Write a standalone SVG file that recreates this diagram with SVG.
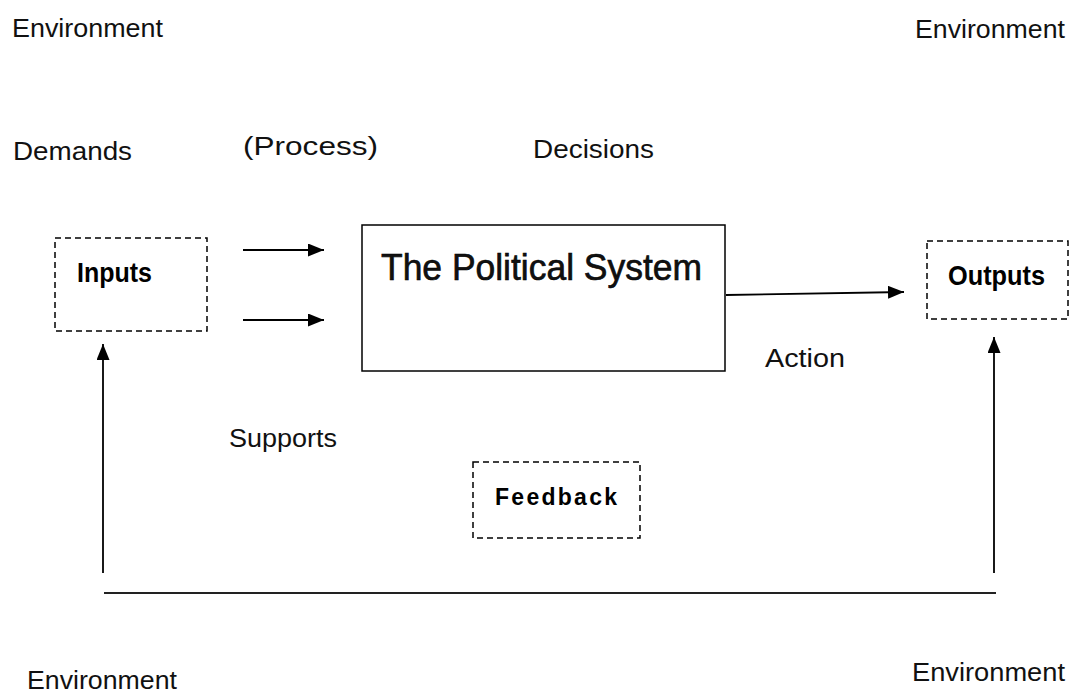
<svg xmlns="http://www.w3.org/2000/svg" width="1072" height="693" viewBox="0 0 1072 693">
<style>
.lbl{font-family:"Liberation Sans",Arial,sans-serif;font-size:25px;fill:#111}
.bold{font-family:"Liberation Sans",Arial,sans-serif;font-weight:bold;fill:#000}
.dash{fill:none;stroke:#000;stroke-width:1.5;stroke-dasharray:6 4}
.solid{fill:#fff;stroke:#000;stroke-width:1.5}
.conn{fill:none;stroke:#000;stroke-width:1.8}
</style>
<defs>
<marker id="ah" viewBox="0 0 16 13" refX="16" refY="6.5" markerWidth="16" markerHeight="13" markerUnits="userSpaceOnUse" orient="auto">
<path d="M0,0 L16,6.5 L0,13 Z" fill="#000"/>
</marker>
</defs>
<rect width="1072" height="693" fill="#fff"/>
<g id="labels">
<text class="lbl" x="12" y="37" textLength="151" lengthAdjust="spacingAndGlyphs">Environment</text>
<text class="lbl" x="915" y="38" textLength="150" lengthAdjust="spacingAndGlyphs">Environment</text>
<text class="lbl" x="13" y="160" textLength="119" lengthAdjust="spacingAndGlyphs">Demands</text>
<text class="lbl" x="243" y="155" textLength="135" lengthAdjust="spacingAndGlyphs">(Process)</text>
<text class="lbl" x="533" y="158" textLength="121" lengthAdjust="spacingAndGlyphs">Decisions</text>
<text class="lbl" x="765" y="367" textLength="80" lengthAdjust="spacingAndGlyphs">Action</text>
<text class="lbl" x="229" y="447" textLength="108" lengthAdjust="spacingAndGlyphs">Supports</text>
<text class="lbl" x="27" y="689" textLength="150" lengthAdjust="spacingAndGlyphs">Environment</text>
<text class="lbl" x="912" y="681" textLength="153" lengthAdjust="spacingAndGlyphs">Environment</text>
</g>
<g id="inputs">
<rect class="dash" x="55" y="238" width="152" height="93"/>
<text class="bold" x="77" y="282" font-size="27" textLength="75" lengthAdjust="spacingAndGlyphs">Inputs</text>
</g>
<g id="political-system">
<rect class="solid" x="362" y="225" width="363" height="146"/>
<text class="lbl" x="381" y="280" style="font-size:36px;stroke:#000;stroke-width:0.6" textLength="321" lengthAdjust="spacingAndGlyphs">The Political System</text>
</g>
<g id="outputs">
<rect class="dash" x="927" y="241" width="141" height="78"/>
<text class="bold" x="948" y="285" font-size="27" textLength="97" lengthAdjust="spacingAndGlyphs">Outputs</text>
</g>
<g id="feedback">
<rect class="dash" x="473" y="462" width="167" height="76"/>
<text class="bold" x="495" y="505" font-size="23" textLength="122" lengthAdjust="spacing">Feedback</text>
</g>
<g id="connectors">
<line class="conn" x1="243" y1="250" x2="324" y2="250" marker-end="url(#ah)"/>
<line class="conn" x1="243" y1="320" x2="324" y2="320" marker-end="url(#ah)"/>
<line class="conn" x1="726" y1="295" x2="904" y2="292" marker-end="url(#ah)"/>
<line class="conn" x1="103" y1="573" x2="103" y2="344" marker-end="url(#ah)"/>
<line class="conn" x1="994" y1="573" x2="994" y2="337" marker-end="url(#ah)"/>
<line x1="104" y1="593" x2="996" y2="593" stroke="#222" stroke-width="2.2"/>
</g>
</svg>
